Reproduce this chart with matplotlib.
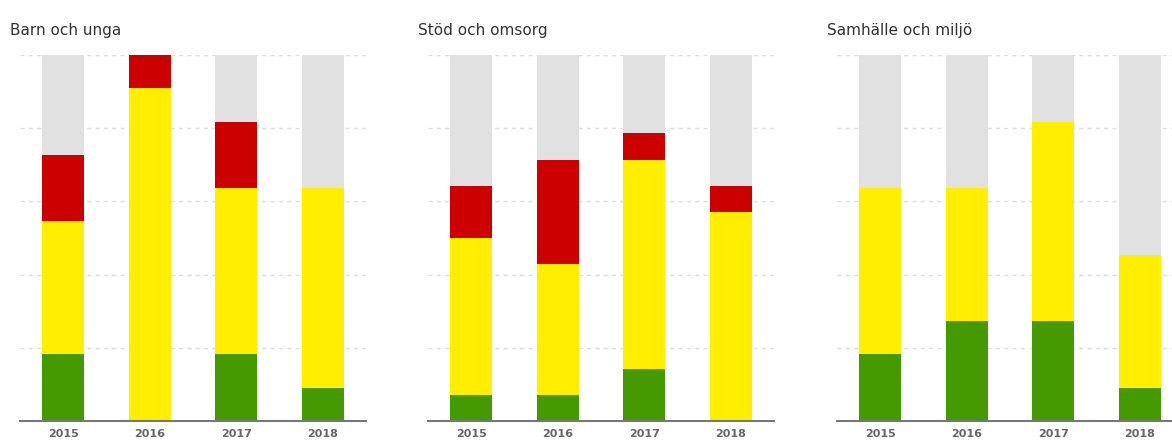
import matplotlib
matplotlib.use("Agg")
import matplotlib.pyplot as plt
import numpy as np

years = ["2015", "2016", "2017", "2018"]
titles = ["Barn och unga", "Stöd och omsorg", "Samhälle och miljö"]

# number of goals per status, and total number of goals per area
totals = [11, 14, 11]
green  = [[2, 0, 2, 1], [1, 1, 2, 0], [2, 3, 3, 1]]
yellow = [[4, 10, 5, 6], [6, 5, 8, 8], [5, 4, 6, 4]]
red    = [[2, 1, 2, 0], [2, 4, 1, 1], [0, 0, 0, 0]]

C_GREEN  = "#449a00"
C_YELLOW = "#ffee00"
C_RED    = "#cc0000"
C_GREY   = "#e1e1e1"

W, H = 1172, 443
fig = plt.figure(figsize=(W / 100, H / 100), dpi=100)

ax_left = [20, 428, 837]
ax_w, ax_top, ax_bot = 346, 55, 421

x = np.arange(len(years))
bw = 0.48
for i in range(3):
    ax = fig.add_axes([ax_left[i] / W, 1 - ax_bot / H, ax_w / W, (ax_bot - ax_top) / H])
    tot = totals[i]
    g = np.array(green[i]) / tot
    y = np.array(yellow[i]) / tot
    r = np.array(red[i]) / tot
    for lev in [0.2, 0.4, 0.6, 0.8, 1.0]:
        ax.axhline(lev, color="#dddddd", linestyle=(0, (3, 3)), linewidth=1, zorder=0)
    ax.bar(x, np.ones(len(x)), width=bw, color=C_GREY, zorder=1)
    ax.bar(x, g, width=bw, color=C_GREEN, zorder=2)
    ax.bar(x, y, bottom=g, width=bw, color=C_YELLOW, zorder=2)
    ax.bar(x, r, bottom=g + y, width=bw, color=C_RED, zorder=2)
    ax.axhline(0, color="#777777", linewidth=1.5, zorder=3, clip_on=False)
    ax.set_xlim(-0.5, 3.5)
    ax.set_ylim(0, 1.0)
    ax.set_xticks(x)
    ax.set_xticklabels(years, fontsize=8, color="#666666", fontweight="bold")
    ax.tick_params(axis="x", length=0, pad=6)
    ax.set_yticks([])
    for s in ax.spines.values():
        s.set_visible(False)
    fig.text((ax_left[i] - 10) / W, 1 - 30 / H, titles[i], fontsize=11,
             color="#333333", ha="left", va="center")

plt.savefig("out.png", dpi=100)
